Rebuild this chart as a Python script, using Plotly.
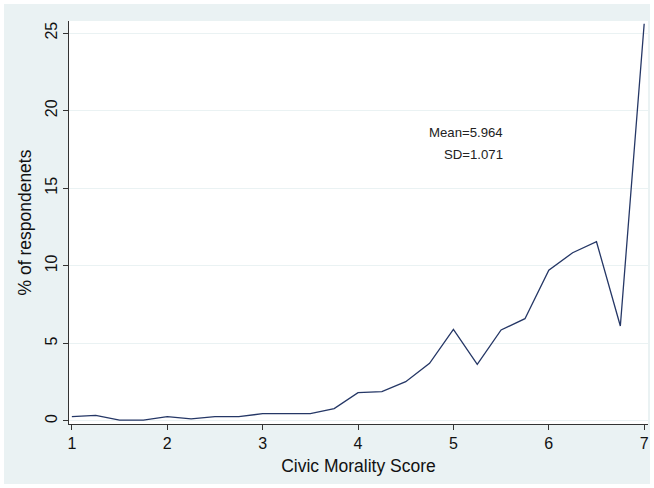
import plotly.graph_objects as go

scores = [1.0, 1.25, 1.5, 1.75, 2.0, 2.25, 2.5, 2.75, 3.0, 3.25, 3.5, 3.75, 4.0,
          4.25, 4.5, 4.75, 5.0, 5.25, 5.5, 5.75, 6.0, 6.25, 6.5, 6.75, 7.0]
percent = [0.27, 0.35, 0.05, 0.05, 0.27, 0.13, 0.27, 0.27, 0.47, 0.47, 0.47, 0.79, 1.82,
           1.89, 2.53, 3.71, 5.90, 3.65, 5.86, 6.59, 9.72, 10.84, 11.55, 6.12, 25.6]
y_ticks = [0, 5, 10, 15, 20, 25]
x_ticks = [1, 2, 3, 4, 5, 6, 7]
stats_text = ["Mean=5.964", "SD=1.071"]

BG = "#EAF2F3"
LINE = "#253766"
FONT = "Liberation Sans, Arial, sans-serif"

fig = go.Figure()
fig.add_trace(go.Scatter(x=scores, y=percent, mode="lines",
                         line=dict(color=LINE, width=1.3), showlegend=False))

W, H = 654, 488
ml, mr, mt, mb = 69, 6, 21, 64
pw, ph = W - ml - mr, H - mt - mb

def px_x(p):
    return (p - ml) / pw

def px_y(p):
    return (H - mb - p) / ph

fig.add_shape(type="rect", xref="paper", yref="paper", layer="below",
              x0=px_x(4), x1=px_x(650), y0=px_y(484), y1=px_y(4),
              fillcolor=BG, line=dict(width=0))
fig.add_shape(type="rect", xref="paper", yref="paper", layer="below",
              x0=0, x1=1, y0=0, y1=1, fillcolor="white", line=dict(width=0))

fig.add_annotation(x=px_x(505), y=px_y(132), xref="paper", yref="paper",
                   text=stats_text[0], showarrow=False, xanchor="right", yanchor="middle",
                   font=dict(family=FONT, size=13.2, color="#222"))
fig.add_annotation(x=px_x(505), y=px_y(154), xref="paper", yref="paper",
                   text=stats_text[1], showarrow=False, xanchor="right", yanchor="middle",
                   font=dict(family=FONT, size=13.2, color="#222"))

fig.update_layout(
    width=W, height=H,
    margin=dict(l=ml, r=mr, t=mt, b=mb),
    paper_bgcolor="white", plot_bgcolor="white",
    font=dict(family=FONT, size=16, color="#111"),
    xaxis=dict(range=[0.97, 7.04], tickvals=x_ticks, ticks="outside", ticklen=5,
               tickcolor="#333", showline=True, linecolor="#333", linewidth=1.2,
               showgrid=False, zeroline=False,
               title=dict(text="Civic Morality Score", font=dict(size=17.5), standoff=8),
               tickfont=dict(size=16)),
    yaxis=dict(range=[-0.2, 25.78], tickvals=y_ticks, ticks="outside", ticklen=5,
               tickcolor="#333", showline=True, linecolor="#333", linewidth=1.2,
               showgrid=True, gridcolor=BG, gridwidth=1.2, zeroline=False,
               tickangle=-90,
               title=dict(text="% of respondenets", font=dict(size=17.5), standoff=6),
               tickfont=dict(size=16)),
)

fig.write_html("out.html", config={"displayModeBar": False},
               post_script="document.body.style.margin='0';document.body.style.padding='0';")
